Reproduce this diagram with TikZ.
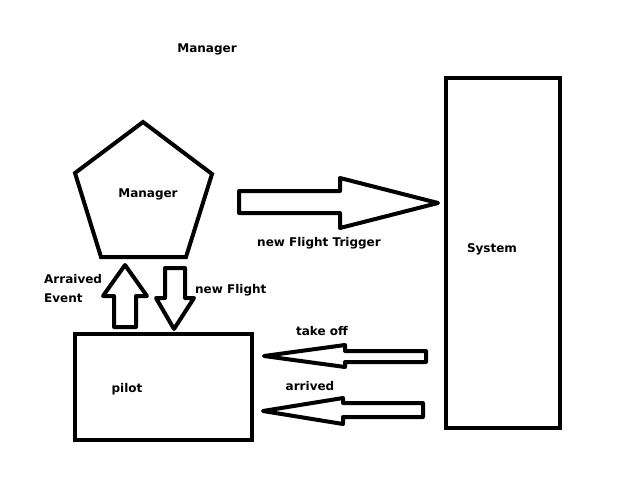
\documentclass[tikz,border=0pt]{standalone}
\usepackage{fontspec}
\setmainfont{DejaVu Sans}
\begin{document}
\begin{tikzpicture}[x=1pt,y=-1pt,
  outline/.style={draw=black,line width=4pt,line join=miter},
  blockarrow/.style={draw=black,line width=4pt,line join=round},
  lbl/.style={font=\bfseries\fontsize{12}{14}\selectfont,inner sep=0pt,text=black}]
\useasboundingbox[fill=white] (0,0) rectangle (622,491);
% pentagon (Manager)
\draw[outline] (143,122) -- (212,174) -- (186,257) -- (101,257) -- (75,173) -- cycle;
% pilot box
\draw[outline] (75,334) rectangle (252,440);
% System box
\draw[outline] (446,78) rectangle (560,428);
% up arrow (Arraived Event)
\draw[blockarrow] (114,327) -- (114,296) -- (103,296) -- (125,265) -- (147,296) -- (136,296) -- (136,327) -- cycle;
% down arrow (new Flight)
\draw[blockarrow] (165,268) -- (185,268) -- (185,298) -- (194,298) -- (174,329) -- (156,298) -- (165,298) -- cycle;
% right arrow (new Flight Trigger)
\draw[blockarrow] (239,191) -- (340,191) -- (340,178) -- (438,203) -- (340,228) -- (340,213) -- (239,213) -- cycle;
% left arrow (take off)
\draw[blockarrow] (426,351) -- (345,351) -- (345,345) -- (264,356) -- (345,367) -- (345,362) -- (426,362) -- cycle;
% left arrow (arrived)
\draw[blockarrow] (423,403) -- (343,403) -- (343,398) -- (263,411) -- (343,424) -- (343,417) -- (423,417) -- cycle;
% texts
\node[lbl] (title) at (207,49) {Manager};
\node[lbl] (manager) at (148,194) {Manager};
\node[lbl] (system) at (492,249) {System};
\node[lbl] (pilot) at (127,389) {pilot};
\node[lbl,anchor=west] (arr1) at (44,279) {Arraived};
\node[lbl,anchor=west] (arr2) at (44,298) {Event};
\node[lbl,anchor=west] (newflight) at (195,290) {new Flight};
\node[lbl] (trigger) at (319,243) {new Flight Trigger};
\node[lbl] (takeoff) at (322,331) {take off};
\node[lbl] (arrived) at (310,386) {arrived};
\end{tikzpicture}
\end{document}
